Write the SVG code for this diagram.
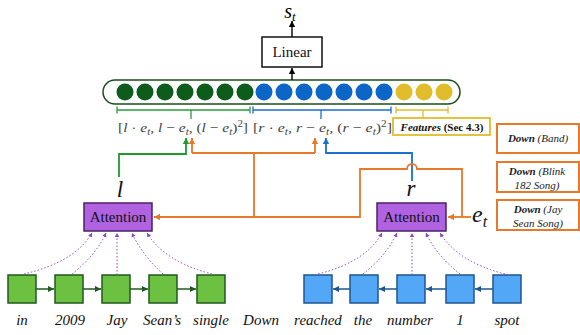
<svg xmlns="http://www.w3.org/2000/svg" width="580" height="335" viewBox="0 0 580 335">
<style>
.serif{font-family:"Liberation Serif","DejaVu Serif","Times New Roman",serif;}
.it{font-style:italic;}
.word{font-family:"Liberation Serif","DejaVu Serif",serif;font-size:15px;font-style:italic;fill:#111;text-anchor:middle;}
.math{font-family:"Liberation Serif","DejaVu Serif",serif;font-size:13.5px;fill:#444;}
.att{fill:#b062e0;stroke:#4a2266;stroke-width:1.5;}
.gsq{fill:#6cc140;stroke:#1f5a1f;stroke-width:1.5;}
.bsq{fill:#52a8f7;stroke:#1c5590;stroke-width:1.5;}
.dot{fill:none;stroke:#8e44c4;stroke-width:1;stroke-dasharray:1.5 2;marker-end:url(#mp);}
.or{fill:none;stroke:#e8782a;stroke-width:1.8;}
.dbox{fill:#fff;stroke:#e8782a;stroke-width:2;}
.dtext{font-family:"Liberation Serif","DejaVu Serif",serif;font-size:11px;font-style:italic;fill:#222;text-anchor:middle;}
</style>
<defs>
<marker id="mk" markerWidth="8" markerHeight="8" refX="6" refY="4" orient="auto" markerUnits="userSpaceOnUse"><path d="M0,0.8 L6,4 L0,7.2 Z" fill="#000"/></marker>
<marker id="mo" markerWidth="8" markerHeight="8" refX="6" refY="4" orient="auto" markerUnits="userSpaceOnUse"><path d="M0,0.8 L6,4 L0,7.2 Z" fill="#e8782a"/></marker>
<marker id="mg" markerWidth="8" markerHeight="8" refX="6" refY="4" orient="auto" markerUnits="userSpaceOnUse"><path d="M0,0.8 L6,4 L0,7.2 Z" fill="#1f9a2e"/></marker>
<marker id="mb" markerWidth="8" markerHeight="8" refX="6" refY="4" orient="auto" markerUnits="userSpaceOnUse"><path d="M0,0.8 L6,4 L0,7.2 Z" fill="#1a6fd0"/></marker>
<marker id="mdg" markerWidth="8" markerHeight="8" refX="6" refY="4" orient="auto" markerUnits="userSpaceOnUse"><path d="M0,1 L6,4 L0,7 Z" fill="#1f5a1f"/></marker>
<marker id="mdb" markerWidth="8" markerHeight="8" refX="6" refY="4" orient="auto" markerUnits="userSpaceOnUse"><path d="M0,1 L6,4 L0,7 Z" fill="#1c5590"/></marker>
<marker id="mp" markerWidth="6" markerHeight="6" refX="4" refY="3" orient="auto" markerUnits="userSpaceOnUse"><path d="M0,0.8 L4,3 L0,5.2 Z" fill="#8e44c4"/></marker>
</defs>

<!-- output -->
<g id="st"><text x="290" y="18" class="serif it" font-size="20" text-anchor="middle">s<tspan font-size="13" dy="3">t</tspan></text></g>
<g id="linear">
<rect x="262" y="37" width="60" height="30" fill="#fff" stroke="#111" stroke-width="1.5"/>
<text x="292" y="57" class="serif" font-size="15" text-anchor="middle" fill="#111">Linear</text>
</g>

<!-- feature vector capsule -->
<g id="vector">
<rect x="103" y="80" width="357" height="24" rx="12" ry="12" fill="#fff" stroke="#1b4d1b" stroke-width="1.5"/>
<g fill="#0e5c1c">
<circle cx="125" cy="92" r="8.5"/><circle cx="145" cy="92" r="8.5"/><circle cx="165" cy="92" r="8.5"/><circle cx="185" cy="92" r="8.5"/><circle cx="205" cy="92" r="8.5"/><circle cx="225" cy="92" r="8.5"/><circle cx="245" cy="92" r="8.5"/>
</g>
<g fill="#0b66c8">
<circle cx="264" cy="92" r="8.5"/><circle cx="284" cy="92" r="8.5"/><circle cx="304" cy="92" r="8.5"/><circle cx="324" cy="92" r="8.5"/><circle cx="344" cy="92" r="8.5"/><circle cx="364" cy="92" r="8.5"/><circle cx="384" cy="92" r="8.5"/>
</g>
<g fill="#e1bd2b">
<circle cx="404" cy="92" r="8.5"/><circle cx="424" cy="92" r="8.5"/><circle cx="444" cy="92" r="8.5"/>
</g>
</g>

<!-- brackets -->
<g id="brackets" fill="none" stroke-width="1.3">
<path d="M117,110 H250 M117,106.5 V113.5 M250,106.5 V113.5 M191,110 V119" stroke="#2e9a3c"/>
<path d="M253,110 H391 M253,106.5 V113.5 M391,106.5 V113.5 M321,110 V119" stroke="#1a6fd0"/>
<path d="M396,110 H448 M396,106.5 V113.5 M448,106.5 V113.5 M423,110 V118" stroke="#e1bd2b"/>
</g>

<!-- math labels -->
<g id="mathL"><text x="118" y="132" class="math" textLength="130" lengthAdjust="spacingAndGlyphs">[<tspan class="it">l</tspan> · <tspan class="it">e</tspan><tspan class="it" font-size="9.5" dy="2.5">t</tspan><tspan dy="-2.5">, </tspan><tspan class="it">l</tspan> − <tspan class="it">e</tspan><tspan class="it" font-size="9.5" dy="2.5">t</tspan><tspan dy="-2.5">, (</tspan><tspan class="it">l</tspan> − <tspan class="it">e</tspan><tspan class="it" font-size="9.5" dy="2.5">t</tspan><tspan dy="-2.5">)</tspan><tspan font-size="9.5" dy="-5">2</tspan><tspan dy="5">]</tspan></text></g>
<g id="mathR"><text x="253" y="132" class="math" textLength="139" lengthAdjust="spacingAndGlyphs">[<tspan class="it">r</tspan> · <tspan class="it">e</tspan><tspan class="it" font-size="9.5" dy="2.5">t</tspan><tspan dy="-2.5">, </tspan><tspan class="it">r</tspan> − <tspan class="it">e</tspan><tspan class="it" font-size="9.5" dy="2.5">t</tspan><tspan dy="-2.5">, (</tspan><tspan class="it">r</tspan> − <tspan class="it">e</tspan><tspan class="it" font-size="9.5" dy="2.5">t</tspan><tspan dy="-2.5">)</tspan><tspan font-size="9.5" dy="-5">2</tspan><tspan dy="5">]</tspan></text></g>

<!-- features box -->
<g id="features">
<rect x="393" y="118" width="97" height="17" fill="#fff" stroke="#e1bd2b" stroke-width="1.8"/>
<text x="442" y="130.5" class="serif" font-size="11" font-weight="bold" text-anchor="middle" fill="#111"><tspan font-style="italic">Features</tspan> (Sec 4.3)</text>
</g>

<!-- candidate boxes -->
<g id="cand1">
<rect x="497" y="124" width="82" height="29" class="dbox"/>
<text x="538" y="142" class="dtext"><tspan font-weight="bold">Down</tspan> (Band)</text>
</g>
<g id="cand2">
<rect x="497" y="162" width="82" height="30" class="dbox"/>
<text x="537" y="175" class="dtext"><tspan font-weight="bold">Down</tspan> (Blink</text>
<text x="537" y="189" class="dtext">182 Song)</text>
</g>
<g id="cand3">
<rect x="497" y="200" width="82" height="30" class="dbox"/>
<text x="538" y="213" class="dtext"><tspan font-weight="bold">Down</tspan> (Jay</text>
<text x="538" y="227" class="dtext">Sean Song)</text>
</g>

<!-- labels l, r, e_t -->
<g id="l"><text x="120" y="197" class="serif it" font-size="23" text-anchor="middle" fill="#111">l</text></g>
<g id="r"><text x="411" y="196" class="serif it" font-size="23" text-anchor="middle" fill="#111">r</text></g>
<g id="et"><text x="472" y="222" class="serif it" font-size="24" fill="#111">e<tspan font-size="16" dy="5">t</tspan></text></g>

<!-- attention boxes -->
<g id="attL">
<rect x="84" y="203" width="68" height="28" class="att"/>
<text x="118" y="222" class="serif" font-size="15" text-anchor="middle" fill="#111">Attention</text>
</g>
<g id="attR">
<rect x="377" y="203" width="69" height="28" class="att"/>
<text x="411.5" y="222" class="serif" font-size="15" text-anchor="middle" fill="#111">Attention</text>
</g>

<!-- LSTM cells -->
<g id="left-cells">
<rect x="8" y="275" width="28" height="28" class="gsq"/>
<rect x="55" y="275" width="28" height="28" class="gsq"/>
<rect x="102" y="275" width="28" height="28" class="gsq"/>
<rect x="149" y="275" width="28" height="28" class="gsq"/>
<rect x="197" y="275" width="28" height="28" class="gsq"/>
</g>
<g id="right-cells">
<rect x="304" y="275" width="28" height="28" class="bsq"/>
<rect x="350" y="275" width="28" height="28" class="bsq"/>
<rect x="397" y="275" width="28" height="28" class="bsq"/>
<rect x="446" y="275" width="28" height="28" class="bsq"/>
<rect x="493" y="275" width="28" height="28" class="bsq"/>
</g>

<!-- words -->
<g id="words">
<text x="22" y="325" class="word">in</text>
<text x="70" y="325" class="word">2009</text>
<text x="117" y="325" class="word">Jay</text>
<text x="162" y="325" class="word">Sean’s</text>
<text x="211" y="325" class="word">single</text>
<text x="261" y="325" class="word" font-style="normal">Down</text>
<text x="318" y="325" class="word">reached</text>
<text x="363" y="325" class="word">the</text>
<text x="410" y="325" class="word">number</text>
<text x="460" y="325" class="word">1</text>
<text x="507" y="325" class="word">spot</text>
</g>

<!-- connectors -->
<g id="connectors">
<path d="M292,80 V68" stroke="#111" stroke-width="1.5" fill="none" marker-end="url(#mk)"/>
<path d="M292,37 V21" stroke="#111" stroke-width="1.5" fill="none" marker-end="url(#mk)"/>

<path d="M119,177 V154 H186 V138" stroke="#1f9a2e" stroke-width="1.8" fill="none" marker-end="url(#mg)"/>
<path d="M412,181 V153 H326 V138" stroke="#1a6fd0" stroke-width="1.8" fill="none" marker-end="url(#mb)"/>

<path d="M192,153 V138" class="or" marker-end="url(#mo)"/>
<path d="M315,153 V138" class="or" marker-end="url(#mo)"/>
<path d="M192,153 H315 M254,153 V217" class="or"/>
<path d="M462,217 V169 H417 A5,5 0 0 0 407,169 H360 V217 H154" class="or" marker-end="url(#mo)"/>
<path d="M471,217 H448" class="or" marker-end="url(#mo)"/>

<path d="M36,289 H54" stroke="#1f5a1f" stroke-width="1.5" marker-end="url(#mdg)"/>
<path d="M83,289 H101" stroke="#1f5a1f" stroke-width="1.5" marker-end="url(#mdg)"/>
<path d="M130,289 H148" stroke="#1f5a1f" stroke-width="1.5" marker-end="url(#mdg)"/>
<path d="M177,289 H196" stroke="#1f5a1f" stroke-width="1.5" marker-end="url(#mdg)"/>

<path d="M350,289 H333" stroke="#1c5590" stroke-width="1.5" marker-end="url(#mdb)"/>
<path d="M397,289 H379" stroke="#1c5590" stroke-width="1.5" marker-end="url(#mdb)"/>
<path d="M446,289 H426" stroke="#1c5590" stroke-width="1.5" marker-end="url(#mdb)"/>
<path d="M493,289 H475" stroke="#1c5590" stroke-width="1.5" marker-end="url(#mdb)"/>

<path d="M24,274 Q75,262 92,233" class="dot"/>
<path d="M72,274 Q96,255 106,233" class="dot"/>
<path d="M117,275 V233" class="dot"/>
<path d="M163,274 Q142,255 132,233" class="dot"/>
<path d="M212,274 Q165,262 147,233" class="dot"/>

<path d="M318,274 Q366,262 382,233" class="dot"/>
<path d="M363,274 Q387,255 397,233" class="dot"/>
<path d="M412,275 V233" class="dot"/>
<path d="M460,274 Q436,255 426,233" class="dot"/>
<path d="M505,274 Q458,262 440,233" class="dot"/>
</g>
</svg>
